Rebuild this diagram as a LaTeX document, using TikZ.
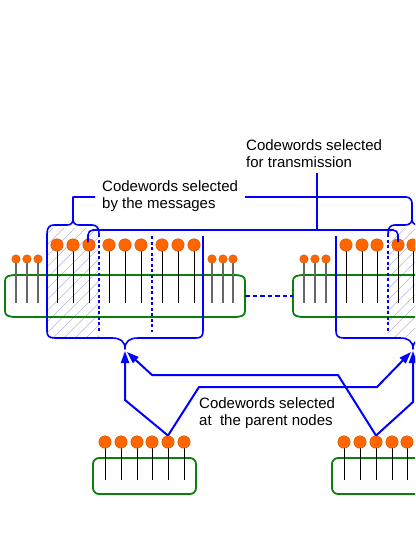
\documentclass[tikz,border=0pt]{standalone}
\usepackage{fontspec}
\setmainfont{Liberation Sans}
\usetikzlibrary{arrows.meta}
\definecolor{bl}{RGB}{0,0,255}
\definecolor{gr}{RGB}{10,128,10}
\definecolor{orng}{RGB}{255,102,0}
\definecolor{orngd}{RGB}{205,85,0}
\definecolor{hatchc}{RGB}{180,180,222}
\begin{document}
\begin{tikzpicture}[x=1pt,y=-1pt,
  bigball/.style={circle,fill=orng,draw=orngd,line width=0.4pt,minimum size=12.5pt,inner sep=0pt},
  smallball/.style={circle,fill=orng,draw=orngd,line width=0.4pt,minimum size=8.5pt,inner sep=0pt},
  stick/.style={line width=1pt,black},
  greystick/.style={line width=1.2pt,black!60},
  gbox/.style={gr,line width=1.8pt},
  br/.style={bl,line width=1.6pt,line join=round},
  dots/.style={bl,line width=1.5pt,dash pattern=on 3pt off 2.5pt},
  linkdash/.style={bl,line width=2pt,dash pattern=on 4.5pt off 3pt},
  arr/.style={bl,line width=2pt,line join=round,-{Triangle[length=12pt,width=8pt]}},
  hatchl/.style={hatchc,line width=0.6pt},
  lbl/.style={anchor=west,align=left,inner sep=0pt,font=\fontsize{15}{16.8}\selectfont}]
\useasboundingbox (0,0) rectangle (415,537);
\clip (0,0) rectangle (415,537);

% hatching
\begin{scope}
  \clip (47,228) rectangle (99,338);
  \foreach \c in {270,281,...,450} \draw[hatchl] (\c-345,345) -- (\c-220,220);
\end{scope}
\begin{scope}
  \clip (388,228) rectangle (430,338);
  \foreach \c in {600,611,...,780} \draw[hatchl] (\c-345,345) -- (\c-220,220);
\end{scope}

% green boxes of the two groups
\draw[gbox] (17,275) -- (233,275) .. controls (241,275) and (245,276) .. (245,281) -- (245,311)
  .. controls (245,316) and (241,317) .. (233,317) -- (17,317)
  .. controls (9,317) and (5,316) .. (5,311) -- (5,281) .. controls (5,276) and (9,275) .. (17,275) -- cycle;
\draw[gbox] (305,275) -- (520,275) -- (520,317) -- (305,317)
  .. controls (297,317) and (293,316) .. (293,311) -- (293,281) .. controls (293,276) and (297,275) .. (305,275) -- cycle;
\draw[linkdash] (245,296) -- (293,296);

% left group lollipops
\foreach \x [count=\i] in {16,27,38} {
  \draw[greystick] (\x,259) -- (\x,303);
  \node[smallball] (LSa\i) at (\x,259) {};
}
\foreach \x [count=\i] in {57,73,89,109,125,141,162,178,194} {
  \draw[stick] (\x,245) -- (\x,303);
  \node[bigball] (LB\i) at (\x,245) {};
}
\foreach \x [count=\i] in {212,223,233} {
  \draw[greystick] (\x,259) -- (\x,303);
  \node[smallball] (LSb\i) at (\x,259) {};
}
% right group lollipops
\foreach \x [count=\i] in {304,315,326} {
  \draw[greystick] (\x,259) -- (\x,303);
  \node[smallball] (RS\i) at (\x,259) {};
}
\foreach \x [count=\i] in {346,362,377,398,413} {
  \draw[stick] (\x,245) -- (\x,303);
  \node[bigball] (RB\i) at (\x,245) {};
}

% parent nodes
\draw[gbox,rounded corners=6pt] (93,458) rectangle (196,494);
\draw[gbox,rounded corners=6pt] (332,458) rectangle (520,494);
\foreach \x [count=\i] in {105,121,137,152,168,184} {
  \draw[stick] (\x,442) -- (\x,480);
  \node[bigball] (PL\i) at (\x,442) {};
}
\foreach \x [count=\i] in {344,360,376,392,407} {
  \draw[stick] (\x,442) -- (\x,480);
  \node[bigball] (PR\i) at (\x,442) {};
}

% dotted separators
\draw[dots] (99,234) -- (99,332);
\draw[dots] (152,236) -- (152,332);
\draw[dots] (388,234) -- (388,332);

% left group braces
\draw[br] (99,234) .. controls (99,228) and (97,225) .. (92,225) -- (79,225)
  .. controls (75,225) and (73,223) .. (73,219) -- (73,197) -- (95,197);
\draw[br] (73,219) .. controls (73,223) and (71,225) .. (67,225) -- (54,225)
  .. controls (49,225) and (47,228) .. (47,234) -- (47,331)
  .. controls (47,336) and (49,338) .. (55,338) -- (112,338)
  .. controls (120,338) and (125,341) .. (125,349)
  .. controls (125,341) and (130,338) .. (138,338) -- (196,338)
  .. controls (201,338) and (203,336) .. (203,331) -- (203,236);
% transmission bracket
\draw[br,rounded corners=5pt] (88,242) -- (88,230) -- (398,230) -- (398,242);
\draw[br] (317,173) -- (317,230);
% right group braces
\draw[br] (388,234) .. controls (388,228) and (390,225) .. (395,225) -- (405,225)
  .. controls (409,225) and (412,223) .. (412,219)
  .. controls (412,223) and (414,225) .. (419,225) -- (440,225);
\draw[br,rounded corners=6pt] (412,219) -- (412,197) -- (245,197);
\draw[br] (336,236) -- (336,331) .. controls (336,336) and (338,338) .. (344,338) -- (400,338)
  .. controls (408,338) and (413,341) .. (413,349)
  .. controls (413,341) and (418,338) .. (426,338) -- (460,338);

% arrows from parent nodes
\coordinate (tipL) at (125,351);
\coordinate (tipR) at (413,351);
\draw[arr] (PL5.north) -- (125,400) -- (tipL);
\draw[arr] (PR3.north) -- (338,375) -- (152,375) -- (127,352);
\draw[arr] (PL5.north) -- (199,387) -- (377,387) -- (411,352);
\draw[arr] (PR3.north) -- (413,402) -- (tipR);

% labels
\node[lbl] (tTrans) at (246,153.5) {Codewords selected\\for transmission};
\node[lbl] (tMsg) at (102,196) {Codewords selected\\by the messages};
\node[lbl] (tPar) at (199,413) {Codewords selected\\at\ \ the parent nodes};
\end{tikzpicture}
\end{document}
